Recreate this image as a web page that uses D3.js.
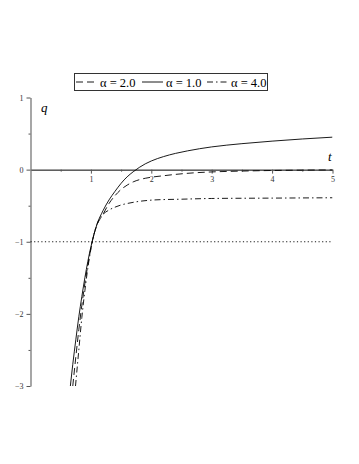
<!DOCTYPE html>
<html>
<head>
<meta charset="utf-8">
<script src="https://cdn.jsdelivr.net/npm/d3@7"></script>
<style>
  body { margin: 0; background: #fff; }
  svg { display: block; }
</style>
</head>
<body>
<svg></svg>
<script>
// values
const seriesLabels = ['α = 2.0', 'α = 1.0', 'α = 4.0'];

const tAlpha1 = [0.66, 0.70, 0.75, 0.80, 0.85, 0.90, 0.95, 1.0, 1.05, 1.1, 1.2, 1.3, 1.4, 1.5, 1.6, 1.7, 1.8, 1.9, 2.0, 2.2, 2.4, 2.6, 2.8, 3.0, 3.5, 4.0, 4.5, 5.0];
const qAlpha1 = [-3.0, -2.7, -2.36, -2.04, -1.76, -1.5, -1.27, -1.07, -0.9, -0.76, -0.57, -0.42, -0.30, -0.19, -0.10, -0.03, 0.03, 0.08, 0.12, 0.18, 0.225, 0.26, 0.29, 0.315, 0.36, 0.395, 0.425, 0.45];

const tAlpha2 = [0.70, 0.75, 0.80, 0.85, 0.90, 0.95, 1.0, 1.05, 1.1, 1.2, 1.3, 1.4, 1.5, 1.6, 1.7, 1.8, 1.9, 2.0, 2.2, 2.4, 2.7, 3.0, 3.5, 4.0, 4.5, 5.0];
const qAlpha2 = [-3.0, -2.6, -2.22, -1.88, -1.58, -1.32, -1.09, -0.9, -0.77, -0.62, -0.47, -0.36, -0.275, -0.215, -0.17, -0.14, -0.12, -0.105, -0.085, -0.066, -0.045, -0.032, -0.02, -0.012, -0.007, -0.004];

const tAlpha4 = [0.745, 0.80, 0.85, 0.90, 0.95, 1.0, 1.05, 1.1, 1.15, 1.2, 1.3, 1.4, 1.5, 1.6, 1.8, 2.06, 2.5, 3.0, 4.0, 5.0];
const qAlpha4 = [-3.0, -2.5, -2.05, -1.68, -1.36, -1.1, -0.9, -0.76, -0.67, -0.62, -0.56, -0.52, -0.49, -0.47, -0.44, -0.42, -0.41, -0.40, -0.395, -0.39];

const xTicks = [1, 2, 3, 4, 5];
const yTicks = [-3, -2, -1, 0, 1];
const xMinor = [0.5, 1.5, 2.5, 3.5, 4.5];
const yMinor = [-2.5, -1.5, -0.5, 0.5];
const refLevel = -1;

const width = 359;
const height = 464;
const serif = '"Times New Roman", "Liberation Serif", Times, serif';

const svg = d3.select('svg')
    .attr('width', width)
    .attr('height', height)
    .style('font-family', serif);

const x = d3.scaleLinear().domain([0, 5]).range([30.5, 332.5]);
const y = d3.scaleLinear().domain([-3, 1]).range([386, 97.5]);

svg.append('defs').append('clipPath')
    .attr('id', 'plot')
  .append('rect')
    .attr('x', x(0))
    .attr('y', y(1))
    .attr('width', x(5) - x(0))
    .attr('height', y(-3) - y(1));

// axes
const xAxis = svg.append('g')
    .attr('transform', `translate(0,${y(0)})`)
    .call(d3.axisBottom(x).tickValues(xTicks).tickSize(4).tickSizeOuter(0).tickFormat(d3.format('d')));
svg.append('g')
    .attr('transform', `translate(0,${y(0)})`)
    .call(d3.axisBottom(x).tickValues(xMinor).tickSize(2).tickFormat(''))
    .call(g => g.select('.domain').remove());

const yAxis = svg.append('g')
    .attr('transform', `translate(${x(0)},0)`)
    .call(d3.axisLeft(y).tickValues(yTicks).tickSize(4).tickSizeOuter(0).tickFormat(d3.format('d')));
svg.append('g')
    .attr('transform', `translate(${x(0)},0)`)
    .call(d3.axisLeft(y).tickValues(yMinor).tickSize(2).tickFormat(''))
    .call(g => g.select('.domain').remove());

svg.selectAll('g').attr('font-family', null);
svg.selectAll('.tick text')
    .style('font-family', serif)
    .attr('font-size', 8)
    .attr('fill', '#333');
svg.selectAll('.tick line').attr('stroke', '#555');
xAxis.select('.domain').attr('stroke', '#000');
yAxis.select('.domain').attr('stroke', '#777').attr('stroke-width', 1.3);

svg.append('text')
    .attr('x', 41)
    .attr('y', 112)
    .style('font-family', serif)
    .attr('font-style', 'italic')
    .attr('font-size', 13)
    .text('q');
svg.append('text')
    .attr('x', 328)
    .attr('y', 161)
    .style('font-family', serif)
    .attr('font-style', 'italic')
    .attr('font-size', 13)
    .text('t');

// dotted reference line
svg.append('line')
    .attr('x1', x(0))
    .attr('x2', x(5))
    .attr('y1', y(refLevel))
    .attr('y2', y(refLevel))
    .attr('stroke', '#000')
    .attr('stroke-width', 0.9)
    .attr('stroke-dasharray', '1.2,2.4');

const dashes = ['7,4', null, '6,3,1.5,3'];
const series = [
  d3.zip(tAlpha2, qAlpha2),
  d3.zip(tAlpha1, qAlpha1),
  d3.zip(tAlpha4, qAlpha4)
];

const line = d3.line()
    .x(d => x(d[0]))
    .y(d => y(d[1]))
    .curve(d3.curveMonotoneX);

svg.append('g')
    .attr('clip-path', 'url(#plot)')
  .selectAll('path')
  .data(series)
  .join('path')
    .attr('d', line)
    .attr('fill', 'none')
    .attr('stroke', '#000')
    .attr('stroke-width', 0.9)
    .attr('stroke-dasharray', (d, i) => dashes[i]);

// legend
const legend = svg.append('g');
legend.append('rect')
    .attr('x', 74.5)
    .attr('y', 73.5)
    .attr('width', 193)
    .attr('height', 17)
    .attr('fill', '#fff')
    .attr('stroke', '#333');

const legendX = [76, 142, 207];
const items = legend.selectAll('.item')
  .data(seriesLabels)
  .join('g')
    .attr('transform', (d, i) => `translate(${legendX[i]},82)`);
items.append('line')
    .attr('x1', 0)
    .attr('x2', 21)
    .attr('stroke', '#000')
    .attr('stroke-width', 0.9)
    .attr('stroke-dasharray', (d, i) => dashes[i]);
items.append('text')
    .attr('x', 24)
    .attr('y', 4.5)
    .style('font-family', serif)
    .attr('font-size', 12.5)
    .text(d => d);
</script>
</body>
</html>
